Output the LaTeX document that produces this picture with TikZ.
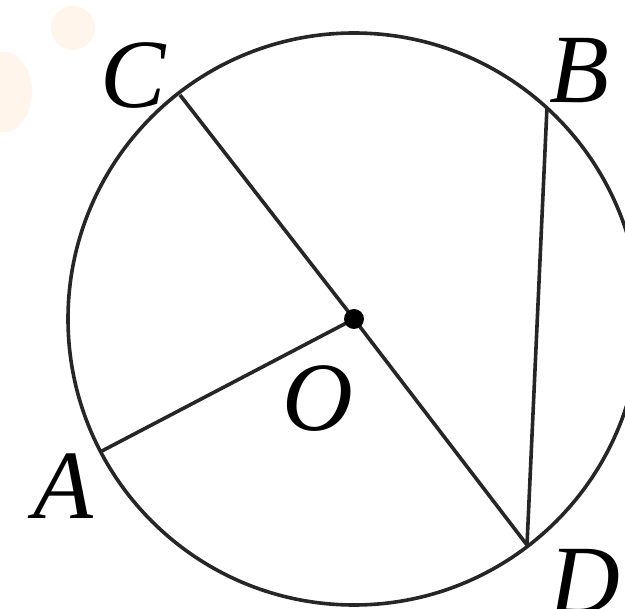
\documentclass[tikz,border=0pt]{standalone}
\usepackage{fontspec}
\setmainfont{Liberation Serif}
\begin{document}
\begin{tikzpicture}[x=1pt,y=-1pt,
  lbl/.style={font=\fontsize{98}{98}\selectfont\itshape, inner sep=0pt},
  seg/.style={line width=3.6pt, black!85}]
\useasboundingbox (0,0) rectangle (625,609);
\begin{scope}
\clip (0,0) rectangle (625,609);
% faint watermark blobs
\fill[orange!8] (73,28) circle (22);
\fill[orange!8] (4,92) ellipse (28 and 40);
\coordinate (O) at (354,319);
\draw[seg] (O) circle (286);
\coordinate (C) at (180,95);
\coordinate (B) at (547,107);
\coordinate (A) at (100,452);
\coordinate (D) at (527,545);
\draw[seg] (C) -- (O) -- (D);
\draw[seg] (O) -- (A);
\draw[seg] (B) -- (D);
\fill (O) circle (10);
\node[lbl] (lC) at (133,76) {C};
\node[lbl] (lB) at (579,71) {B};
\node[lbl] (lA) at (63,486) {A};
\node[lbl] (lD) at (585,582) {D};
\node[lbl] (lO) at (318,399) {O};
\end{scope}
\end{tikzpicture}
\end{document}
